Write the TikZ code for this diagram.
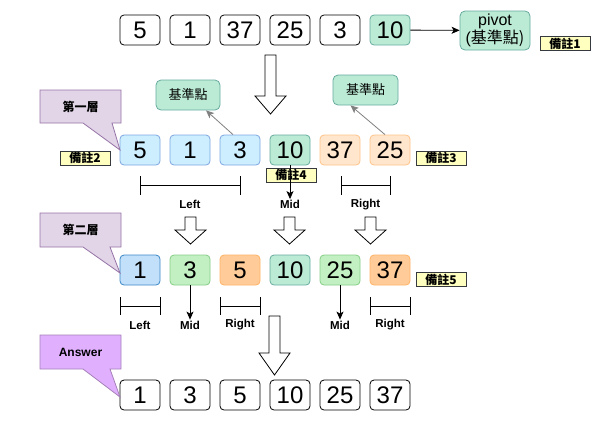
\documentclass[tikz,border=0pt]{standalone}
\usepackage{fontspec}
\setmainfont{Liberation Sans}
\newfontfamily\cjk{Noto Sans CJK TC}
\usetikzlibrary{arrows.meta,calc}
\definecolor{blueF}{HTML}{CCEEFF}\definecolor{blueS}{HTML}{7EA6E0}
\definecolor{blue3F}{HTML}{C2E0FA}\definecolor{blue3S}{HTML}{3C87C6}
\definecolor{mintF}{HTML}{BBEBD5}\definecolor{mintS}{HTML}{67AB9F}
\definecolor{peachF}{HTML}{FFE6CC}\definecolor{peachS}{HTML}{FFC38A}
\definecolor{grnF}{HTML}{C3F0C3}\definecolor{grnS}{HTML}{85CC85}
\definecolor{orgF}{HTML}{FFCC99}\definecolor{orgS}{HTML}{FFB366}
\definecolor{noteF}{HTML}{FFFFC0}\definecolor{noteS}{HTML}{36393D}
\definecolor{purF}{HTML}{E1D5E7}\definecolor{purS}{HTML}{9673A6}
\definecolor{ansF}{HTML}{E0B0FF}\definecolor{ansS}{HTML}{A680B8}
\begin{document}
\begin{tikzpicture}[x=1pt,y=-1pt,
  num/.style={draw, rounded corners=4pt, minimum width=40pt, minimum height=30pt, inner sep=0pt, line width=0.8pt, font=\fontsize{24}{24}\selectfont},
  r1/.style={num, fill=white, draw=black},
  bl/.style={num, fill=blueF, draw=blueS},
  mi/.style={num, fill=mintF, draw=mintS},
  pe/.style={num, fill=peachF, draw=peachS},
  bl3/.style={num, fill=blue3F, draw=blue3S},
  gr/.style={num, fill=grnF, draw=grnS},
  og/.style={num, fill=orgF, draw=orgS},
  pivotbox/.style={draw=mintS, fill=mintF, rounded corners=5pt, line width=0.8pt, inner sep=0pt, align=center},
  note/.style={draw=noteS, fill=noteF, line width=0.8pt, minimum width=50pt, minimum height=14pt, inner sep=0pt, font=\cjk\bfseries\fontsize{12}{12}\selectfont},
  lbl/.style={font=\bfseries\fontsize{11.5}{11.5}\selectfont, inner sep=1pt},
  callout/.style={line width=0.8pt},
  hollow/.style={draw=black, fill=white, line width=0.8pt, line join=miter},
  arr/.style={-{Stealth[length=8pt,width=7pt,inset=2pt]}, line width=0.8pt},
  garr/.style={-{Stealth[length=8pt,width=7pt,inset=2pt]}, draw=gray, line width=0.8pt},
  brk/.style={line width=0.8pt}
]
\useasboundingbox (0,0) rectangle (601,421);

% ---- row 1
\node[r1] (a1) at (140,30) {5};
\node[r1] (a2) at (190,30) {1};
\node[r1] (a3) at (240,30) {37};
\node[r1] (a4) at (290,30) {25};
\node[r1] (a5) at (340,30) {3};
\node[mi] (a6) at (390,30) {10};
\node[pivotbox, minimum width=70pt, minimum height=39pt] (pv) at (495,30.5) {\fontsize{16}{19}\selectfont pivot\\\fontsize{16}{19}\selectfont(\cjk 基準點)};
\node[note] (n1) at (565,43.5) {備註1};
\draw[arr] (a6) -- (pv);

% hollow arrow 1
\draw[hollow] (265,55) -- (276,55) -- (276,96) -- (286,96) -- (270.5,114) -- (255,96) -- (265,96) -- cycle;

% ---- row 2
\node[bl] (b1) at (140,150) {5};
\node[bl] (b2) at (190,150) {1};
\node[bl] (b3) at (240,150) {3};
\node[mi] (b4) at (290,150) {10};
\node[pe] (b5) at (340,150) {37};
\node[pe] (b6) at (390,150) {25};

\node[pivotbox, minimum width=64pt, minimum height=30pt, font=\cjk\fontsize{13}{13}\selectfont] (pL) at (188,95) {基準點};
\node[pivotbox, minimum width=65pt, minimum height=30pt, font=\cjk\fontsize{13}{13}\selectfont] (pR) at (365.5,90) {基準點};
\draw[garr] ($(b3.north)+(-7,0)$) -- ($(pL.south)+(18,0)$);
\draw[garr] ($(b6.north)+(-5,0)$) -- ($(pR.south)+(-15,0)$);

% callout 1
\draw[callout, fill=purF, draw=purS] (40,90) -- (121,90) -- (121,123) -- (112,123) -- (120,150) -- (83,123) -- (40,123) -- cycle;
\node[font=\cjk\bfseries\fontsize{12}{12}\selectfont] (c1) at (80.5,106.5) {第一層};

\node[note] (n2) at (85,158) {備註2};
\node[note] (n3) at (441,158) {備註3};
\node[note] (n4) at (291,175) {備註4};

% brackets row 2
\coordinate (lb1) at (140,185); \coordinate (lb2) at (240,185);
\coordinate (rb1) at (341,185); \coordinate (rb2) at (390,185);
\draw[brk] (lb1) -- (lb2) (140,176) -- (140,195) (240,176) -- (240,195);
\draw[brk] (rb1) -- (rb2) (341,176) -- (341,195) (390,176) -- (390,195);
\node[lbl] (Lt1) at (190,204.5) {Left};
\node[lbl] (Md1) at (290,204.5) {Mid};
\node[lbl] (Rt1) at (365.5,204.5) {Right};
\draw[arr] (b4.south) -- (Md1.north);

% hollow arrows row 2
\draw[hollow] (185,217) -- (196,217) -- (196,230) -- (206,230) -- (190.5,244) -- (175,230) -- (185,230) -- cycle;
\draw[hollow] (284,217) -- (295,217) -- (295,230) -- (305,230) -- (289.5,244) -- (274,230) -- (284,230) -- cycle;
\draw[hollow] (365,217) -- (376,217) -- (376,230) -- (386,230) -- (370.5,244) -- (355,230) -- (365,230) -- cycle;

% ---- row 3
\node[bl3] (d1) at (140,270) {1};
\node[gr]  (d2) at (190,270) {3};
\node[og]  (d3) at (240,270) {5};
\node[mi]  (d4) at (290,270) {10};
\node[gr]  (d5) at (340,270) {25};
\node[og]  (d6) at (390,270) {37};
\node[note] (n5) at (441,279.5) {備註5};

\draw[callout, fill=purF, draw=purS] (40,213) -- (121,213) -- (121,247) -- (110,247) -- (120,273) -- (83,247) -- (40,247) -- cycle;
\node[font=\cjk\bfseries\fontsize{12}{12}\selectfont] (c2) at (80.5,230) {第二層};

% brackets row 3
\draw[brk] (120,306) -- (160,306) (120,297) -- (120,315) (160,297) -- (160,315);
\draw[brk] (220,306) -- (260,306) (220,297) -- (220,315) (260,297) -- (260,315);
\draw[brk] (370,306) -- (410,306) (370,297) -- (370,315) (410,297) -- (410,315);
\node[lbl] (Lt2) at (140,325) {Left};
\node[lbl] (Md2) at (190,325) {Mid};
\node[lbl] (Rt2) at (240,325) {Right};
\node[lbl] (Md3) at (340,325) {Mid};
\node[lbl] (Rt3) at (390,325) {Right};
\draw[arr] (d2.south) -- (Md2.north);
\draw[arr] (d5.south) -- (Md3.north);

% hollow arrow bottom
\draw[hollow] (269,316) -- (280,316) -- (280,353) -- (290,353) -- (274.5,375) -- (259,353) -- (269,353) -- cycle;

% ---- row 4
\node[r1] (e1) at (140,395) {1};
\node[r1] (e2) at (190,395) {3};
\node[r1] (e3) at (240,395) {5};
\node[r1] (e4) at (290,395) {10};
\node[r1] (e5) at (340,395) {25};
\node[r1] (e6) at (390,395) {37};

\draw[callout, fill=ansF, draw=ansS] (40,335) -- (121,335) -- (121,369) -- (110,369) -- (120,397) -- (83,369) -- (40,369) -- cycle;
\node[font=\bfseries\fontsize{12}{12}\selectfont] (c3) at (80.5,352) {Answer};
\end{tikzpicture}
\end{document}
